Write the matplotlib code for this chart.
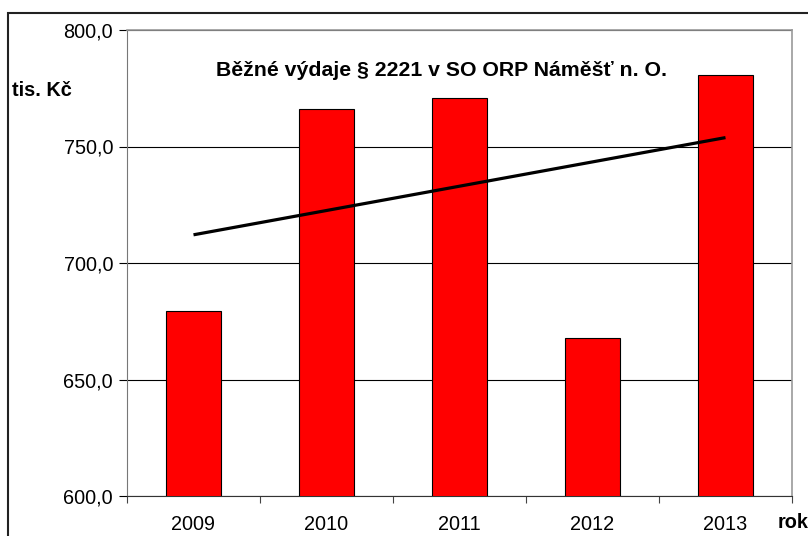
import numpy as np
import matplotlib
matplotlib.use("Agg")
import matplotlib.pyplot as plt
from matplotlib.patches import Rectangle

years = ["2009", "2010", "2011", "2012", "2013"]
values = [679.4, 766.1, 770.8, 667.8, 780.7]
yticks = [600, 650, 700, 750, 800]
ytick_labels = ["600,0", "650,0", "700,0", "750,0", "800,0"]
title = "Běžné výdaje § 2221 v SO ORP Náměšť n. O."
ylabel = "tis. Kč"
xlabel = "rok"

plt.rcParams['font.family'] = ['Liberation Sans', 'DejaVu Sans']
FS = 14.3

fig = plt.figure(figsize=(8.08, 5.36), dpi=100)
ax = fig.add_axes([127/808, 40/536, (792-127)/808, (496-30)/536])

x = np.arange(len(years))
ax.bar(x, values, width=0.41, color='#ff0000', edgecolor='black', linewidth=0.8, zorder=3)

coef = np.polyfit(x, values, 1)
ax.plot(x, np.polyval(coef, x), color='black', linewidth=2.3, zorder=4, solid_capstyle='butt')

ax.set_xlim(-0.5, len(years) - 0.5)
ax.set_ylim(600, 800)
ax.set_yticks(yticks)
ax.set_yticklabels(ytick_labels, fontsize=FS)
ax.yaxis.grid(True, color='black', linewidth=0.8, zorder=0)
ax.set_axisbelow(True)

ax.set_xticks(x)
ax.set_xticklabels(years, fontsize=FS)
ax.tick_params(axis='x', which='major', length=0, pad=14)
ax.set_xticks(np.arange(-0.5, len(years)), minor=True)
ax.tick_params(axis='x', which='minor', length=5, width=0.8, direction='out', color='#444444')
ax.tick_params(axis='y', length=6, width=0.8, direction='out', pad=4)

for s in ['top', 'right']:
    ax.spines[s].set_color('#999999')
    ax.spines[s].set_linewidth(1.2)
ax.spines['left'].set_color('#777777')
ax.spines['bottom'].set_color('#333333')

ax.text((441-127)/665, (496-71)/466, title, transform=ax.transAxes, ha='center', va='center',
        fontsize=15.3, fontweight='bold')
fig.text(12/808, 1 - 90/536, ylabel, ha='left', va='center', fontsize=FS, fontweight='bold')
fig.text(778/808, 1 - 523/536, xlabel, ha='left', va='center', fontsize=FS, fontweight='bold')

fig.add_artist(Rectangle((8/808, -0.1), 1.2, 1 - 13/536 + 0.1, transform=fig.transFigure,
                         fill=False, edgecolor='#222222', linewidth=1.5))

fig.savefig("out.png", dpi=100)
